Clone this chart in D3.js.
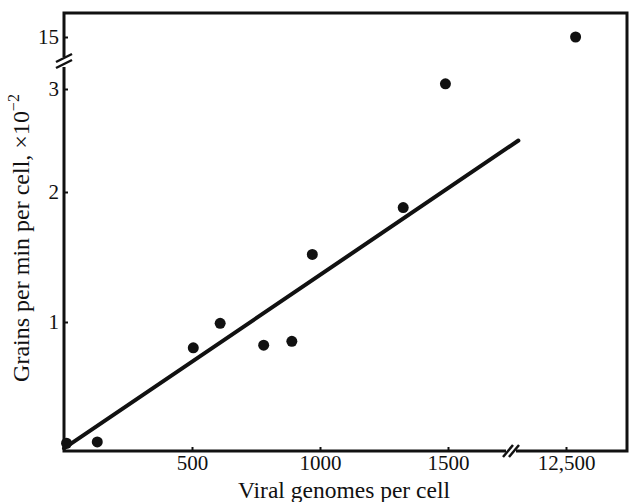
<!DOCTYPE html>
<html>
<head>
<meta charset="utf-8">
<script src="https://cdn.jsdelivr.net/npm/d3@7"></script>
<style>
  body { margin: 0; background: #fff; }
  text { font-family: "Liberation Serif", "Times New Roman", serif; fill: #111; }
</style>
</head>
<body>
<div id="graf"></div>
<script>
// Data (x = viral genomes per cell, y = grains per min per cell x10^-2)
var genomes = [10, 130, 505, 610, 780, 890, 970, 1325, 1490];
var grains = [0.06, 0.07, 0.80, 0.99, 0.82, 0.85, 1.52, 1.88, 3.05];
// the one point past the axis breaks
var farGenomes = [12560];
var farGrains = [15];
// regression line end points
var fitX = [0, 1775];
var fitY = [0.02, 2.5];

var xTicks = [500, 1000, 1500];
var xFarTicks = [12500];
var yTicks = [1, 2, 3];
var yFarTicks = [15];

const svg = d3.select("#graf")
  .append("svg")
  .attr("width", 632)
  .attr("height", 502);

const frame = { left: 64, right: 627, top: 13, bottom: 451 };

// lower (main) scales, the y one is drawn a bit uneven in the original
const xScale = d3.scaleLinear().domain([0, 1500]).range([frame.left, 448]);
const yScale = d3.scaleLinear().domain([0, 1, 2, 3]).range([frame.bottom, 322, 192, 89]);
// scales beyond the breaks
const xFar = d3.scaleLinear().domain([12250, 12750]).range([526, 606]);
const yFar = d3.scaleLinear().domain([14, 16]).range([53, 21]);

const ink = "#111";

// frame
svg.append("path")
  .attr("d", `M${frame.left},${frame.bottom}V${frame.top}H${frame.right}V${frame.bottom}Z`)
  .attr("fill", "none")
  .attr("stroke", ink)
  .attr("stroke-width", 3);

// ticks (pointing in)
const xAxis = d3.axisBottom(xScale).tickValues(xTicks).tickSizeInner(-4).tickSizeOuter(0).tickPadding(4)
  .tickFormat(d3.format("d"));
const xAxisFar = d3.axisBottom(xFar).tickValues(xFarTicks).tickSizeInner(-4).tickSizeOuter(0).tickPadding(4)
  .tickFormat(d3.format(","));
const yAxis = d3.axisLeft(yScale).tickValues(yTicks).tickSizeInner(-4).tickSizeOuter(0).tickPadding(5)
  .tickFormat(d3.format("d"));
const yAxisFar = d3.axisLeft(yFar).tickValues(yFarTicks).tickSizeInner(-4).tickSizeOuter(0).tickPadding(5)
  .tickFormat(d3.format("d"));

function styleAxis(g) {
  g.select(".domain").remove();
  g.selectAll(".tick line").attr("stroke", ink).attr("stroke-width", 2);
  g.selectAll(".tick text").attr("font-size", 21).attr("fill", ink)
    .style("font-family", "'Liberation Serif', serif");
}

svg.append("g").attr("transform", `translate(0,${frame.bottom})`).call(xAxis).call(styleAxis);
svg.append("g").attr("transform", `translate(0,${frame.bottom})`).call(xAxisFar).call(styleAxis);
svg.append("g").attr("transform", `translate(${frame.left},0)`).call(yAxis).call(styleAxis);
svg.append("g").attr("transform", `translate(${frame.left},0)`).call(yAxisFar).call(styleAxis);

// axis break marks
svg.append("rect").attr("x", 506).attr("y", frame.bottom - 2).attr("width", 10).attr("height", 4).attr("fill", "#fff");
[-3, 3].forEach(off => {
  svg.append("line")
    .attr("x1", 511 + off - 5).attr("y1", frame.bottom + 6)
    .attr("x2", 511 + off + 5).attr("y2", frame.bottom - 6)
    .attr("stroke", ink).attr("stroke-width", 2.5);
});
svg.append("rect").attr("x", frame.left - 2).attr("y", 57).attr("width", 4).attr("height", 10).attr("fill", "#fff");
[-3, 3].forEach(off => {
  svg.append("line")
    .attr("x1", frame.left - 8).attr("y1", 65 + off)
    .attr("x2", frame.left + 8).attr("y2", 57 + off)
    .attr("stroke", ink).attr("stroke-width", 2.5);
});

// fitted line
const line = d3.line()
  .x(d => xScale(d[0]))
  .y(d => yScale(d[1]));
svg.append("path")
  .datum(d3.zip(fitX, fitY))
  .attr("d", line)
  .attr("fill", "none")
  .attr("stroke", ink)
  .attr("stroke-width", 4)
  .attr("stroke-linecap", "round");

// points
svg.selectAll("circle.pt")
  .data(d3.zip(genomes, grains))
  .enter()
  .append("circle")
  .attr("class", "pt")
  .attr("cx", d => xScale(d[0]))
  .attr("cy", d => yScale(d[1]))
  .attr("r", 5.5)
  .attr("fill", ink);

svg.selectAll("circle.far")
  .data(d3.zip(farGenomes, farGrains))
  .enter()
  .append("circle")
  .attr("class", "far")
  .attr("cx", d => xFar(d[0]))
  .attr("cy", d => yFar(d[1]))
  .attr("r", 5.5)
  .attr("fill", ink);

// axis titles
svg.append("text")
  .attr("x", 344)
  .attr("y", 498)
  .attr("text-anchor", "middle")
  .attr("font-size", 23.5)
  .text("Viral genomes per cell");

const yTitle = svg.append("text")
  .attr("transform", "translate(29,238) rotate(-90)")
  .attr("text-anchor", "middle")
  .attr("font-size", 24);
yTitle.append("tspan").text("Grains per min per cell, \u00d710");
yTitle.append("tspan").attr("dy", -10).attr("font-size", 16).text("\u22122");
</script>
</body>
</html>
